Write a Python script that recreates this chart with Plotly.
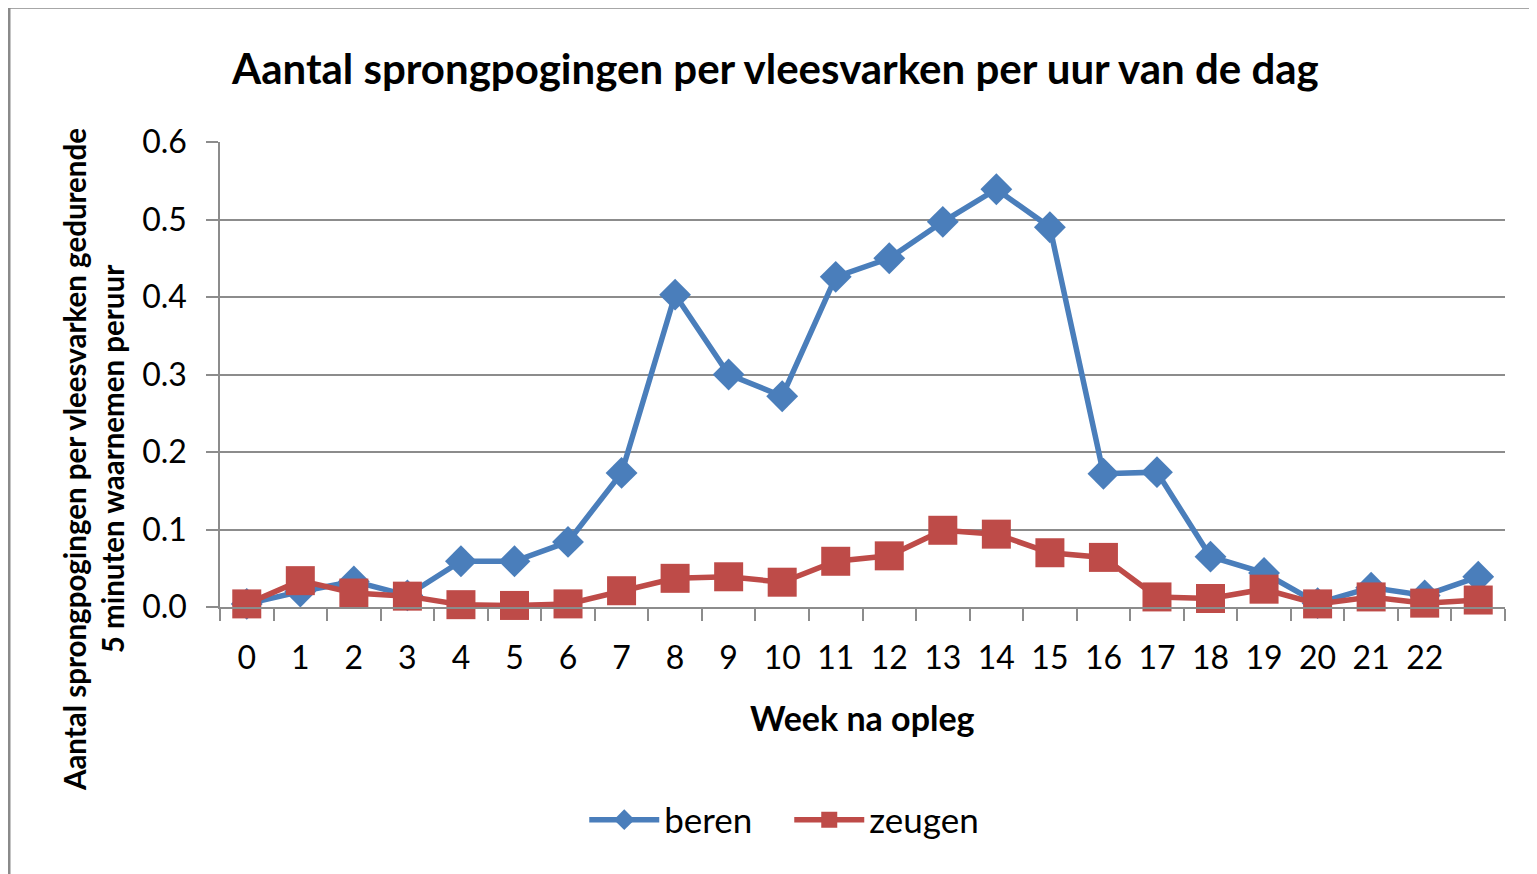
import plotly.graph_objects as go

categories = [str(i) for i in range(23)] + [" "]
beren = [0.004, 0.02, 0.033, 0.015, 0.059, 0.059, 0.084, 0.173, 0.403, 0.300, 0.272, 0.426,
         0.450, 0.497, 0.539, 0.490, 0.172, 0.174, 0.065, 0.044, 0.005, 0.025, 0.015, 0.039]
zeugen = [0.004, 0.034, 0.018, 0.014, 0.003, 0.002, 0.004, 0.021, 0.037, 0.039, 0.032, 0.059,
          0.066, 0.099, 0.094, 0.070, 0.064, 0.013, 0.011, 0.023, 0.004, 0.013, 0.005, 0.009]
y_ticks = [0.0, 0.1, 0.2, 0.3, 0.4, 0.5, 0.6]

FONT = "Lato"
GRID = "#8c8c8c"

fig = go.Figure()
fig.add_trace(go.Scatter(x=categories, y=beren, name="beren", mode="lines+markers",
                         line=dict(color="#4A7EBB", width=5.5),
                         marker=dict(symbol="diamond", size=24.5, color="#4A7EBB"),
                         cliponaxis=False))
fig.add_trace(go.Scatter(x=categories, y=zeugen, name="zeugen", mode="lines+markers",
                         line=dict(color="#BE4B48", width=5.5),
                         marker=dict(symbol="square", size=29, color="#BE4B48"),
                         cliponaxis=False))

fig.update_layout(
    width=1529, height=866,
    margin=dict(l=212, r=32, t=134, b=267),
    paper_bgcolor="white", plot_bgcolor="white",
    font=dict(family=FONT, size=32, color="#000000"),
    showlegend=True,
    legend=dict(orientation="h", x=0.443, y=-0.458, xanchor="center", yanchor="middle",
                font=dict(family=FONT, size=35, color="#000"), itemwidth=70,
                entrywidth=120, tracegroupgap=0),
    xaxis=dict(type="category", categoryorder="array", categoryarray=categories,
               tickson="boundaries", ticks="outside", ticklen=12, tickcolor=GRID,
               tickwidth=1.5, showline=True, linecolor=GRID, linewidth=1.5,
               showgrid=False, tickfont=dict(family=FONT, size=32, color="#000"),
               ticklabelstandoff=22, range=[-0.5, 23.5]),
    yaxis=dict(range=[0, 0.6], tickvals=y_ticks, tickformat=".1f", ticks="outside",
               ticklen=12, tickcolor=GRID, tickwidth=1.5, showline=True, linecolor=GRID,
               linewidth=1.5, showgrid=True, gridcolor=GRID, gridwidth=1.5, zeroline=False,
               tickfont=dict(family=FONT, size=32, color="#000"), ticklabelstandoff=13),
    annotations=[
        dict(text="<b>Aantal sprongpogingen per vleesvarken per uur van de dag</b>",
             xref="paper", yref="paper", x=0.432, y=1.159, xanchor="center", yanchor="middle",
             showarrow=False, font=dict(family=FONT, size=42, color="#000")),
        dict(text="<b>Week na opleg</b>", xref="paper", yref="paper", x=0.5, y=-0.2366,
             xanchor="center", yanchor="middle", showarrow=False,
             font=dict(family=FONT, size=34, color="#000")),
        dict(text="<b>Aantal sprongpogingen per vleesvarken gedurende<br>5 minuten waarnemen peruur</b>",
             xref="paper", yref="paper", x=-0.0988, y=0.316, xanchor="center", yanchor="middle",
             textangle=-90, showarrow=False,
             font=dict(family=FONT, size=29.5, color="#000")),
    ],
    shapes=[dict(type="rect", xref="paper", yref="paper", x0=-0.1642, x1=1.1, y0=-0.7, y1=1.290,
                 line=dict(color="#8a8a8a", width=3))],
)

fig.write_html("out.html")
